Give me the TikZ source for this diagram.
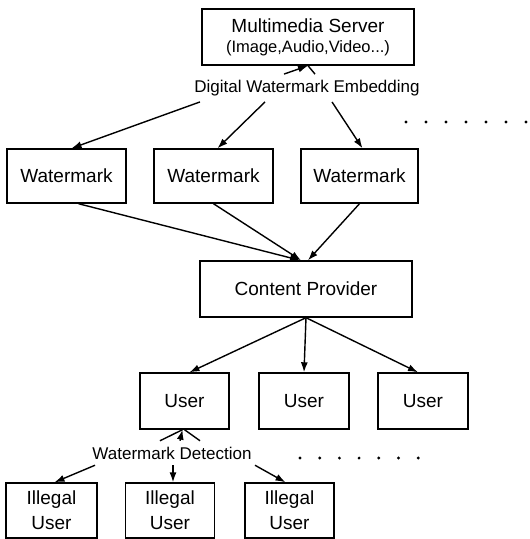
\documentclass[tikz,border=0pt]{standalone}
\usepackage{fontspec}
\setmainfont{Liberation Sans}
\usetikzlibrary{arrows.meta}

\begin{document}
\begin{tikzpicture}[x=1pt, y=-1pt,
	box/.style={draw, line width=1.4pt, inner sep=0pt, align=center, font=\fontsize{19}{25}\selectfont},
	tag/.style={inner sep=2pt, outer sep=4pt, font=\fontsize{17}{20}\selectfont},
	arr/.style={line width=1.4pt, -{Latex[length=10pt, width=7pt]}},
	ln/.style={line width=1.4pt}]
	\useasboundingbox (0,0) rectangle (530,539);
	\node (server) [box, minimum width=212pt, minimum height=56pt] at (308,37) {Multimedia Server\\[-5pt]\fontsize{16.5}{20}\selectfont(Image,Audio,Video...)};
	\node (embed) [tag] at (307,88) {Digital Watermark Embedding};
	\node (wm1) [box, minimum width=119pt, minimum height=54pt] at (66.5,176) {Watermark};
	\node (wm2) [box, minimum width=119pt, minimum height=54pt] at (213.5,176) {Watermark};
	\node (wm3) [box, minimum width=117pt, minimum height=54pt] at (359.5,176) {Watermark};
	\node (cp) [box, minimum width=212pt, minimum height=56pt] at (306,289) {Content Provider};
	\node (user1) [box, minimum width=89pt, minimum height=56pt] at (184.5,401) {User};
	\node (user2) [box, minimum width=90pt, minimum height=56pt] at (304,401) {User};
	\node (user3) [box, minimum width=90pt, minimum height=56pt] at (423,401) {User};
	\node (detect) [tag] at (172,453) {Watermark Detection};
	\node (ill1) [box, minimum width=91pt, minimum height=55pt] at (51.5,510.5) {Illegal\\User};
	\node (ill2) [box, minimum width=89pt, minimum height=55pt] at (170,510.5) {Illegal\\User};
	\node (ill3) [box, minimum width=89pt, minimum height=55pt] at (289.5,510.5) {Illegal\\User};
	% embedding
	\draw[arr] ([xshift=-23pt]embed.north) -> (server.south);
	\draw[ln] ([xshift=8pt]embed.north) -- (server.south);
	\draw[arr] ([xshift=-107pt]embed.south) -> ([xshift=5pt]wm1.north);
	\draw[arr] ([xshift=-42pt]embed.south) -> ([xshift=4pt]wm2.north);
	\draw[arr] ([xshift=25pt]embed.south) -> ([xshift=3pt]wm3.north);
	\foreach \i in {0,...,6}
		\fill (406+20*\i,122) circle (1.6pt);
	% to the provider
	\draw[arr] ([xshift=12pt]wm1.south) -> ([xshift=-6pt]cp.north);
	\draw[arr] (wm2.south) -> ([xshift=-5pt]cp.north);
	\draw[arr] (wm3.south) -> ([xshift=2pt]cp.north);
	\draw[arr] (cp.south) -> ([xshift=5pt]user1.north);
	\draw[arr] (cp.south) -> (user2.north);
	\draw[arr] (cp.south) -> ([xshift=-5pt]user3.north);
	% detection
	\draw[ln] ([xshift=-12pt]detect.north) -- ([xshift=-2pt]user1.south);
	\draw[arr] ([xshift=8pt]detect.north) -> ([xshift=-2pt]user1.south);
	\draw[ln] ([xshift=28pt]detect.north) -- (user1.south);
	\draw[arr] ([xshift=-77pt]detect.south) -> ([xshift=3pt]ill1.north);
	\draw[arr] ([xshift=1pt]detect.south) -> ([xshift=3pt]ill2.north);
	\draw[arr] ([xshift=83pt]detect.south) -> ([xshift=-4pt]ill3.north);
	\foreach \i in {0,...,6}
		\fill (300+19.7*\i,458) circle (1.6pt);
\end{tikzpicture}
\end{document}
